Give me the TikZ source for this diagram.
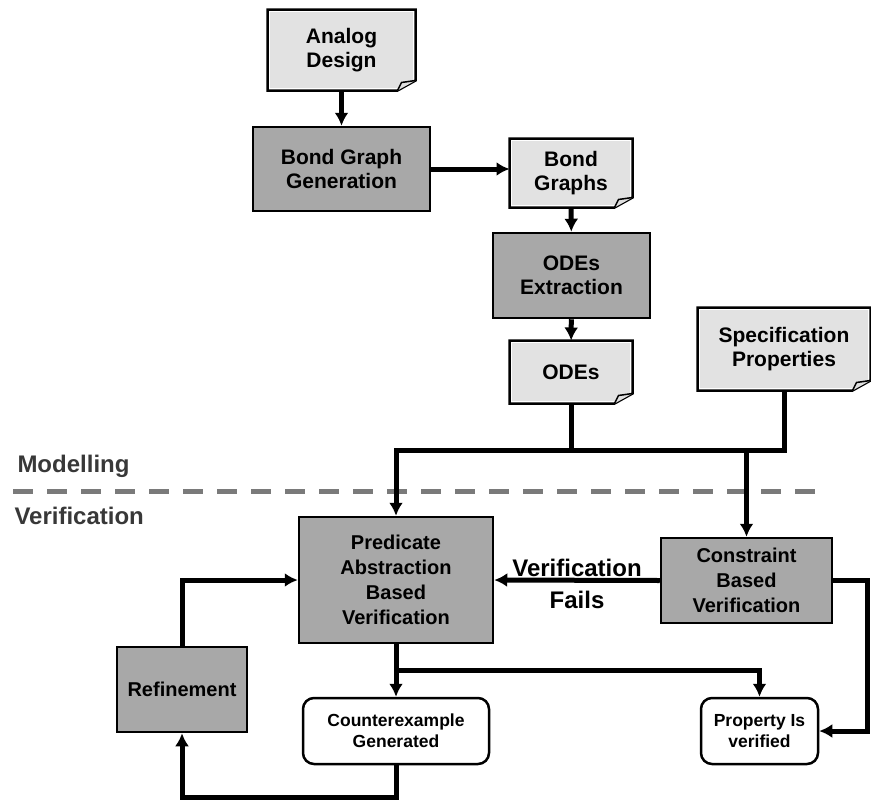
\documentclass[tikz,border=0pt]{standalone}
\usepackage{fontspec}
\setmainfont{Liberation Sans}
\usetikzlibrary{arrows.meta}
\definecolor{docgray}{HTML}{E2E2E2}
\definecolor{procgray}{HTML}{A8A8A8}
\definecolor{sepgray}{HTML}{7A7A7A}
\definecolor{labelgray}{HTML}{383838}
\tikzset{>={Latex[length=13pt,width=14pt]}}

\begin{document}
\begin{tikzpicture}[x=1pt,y=-1pt,line width=5pt]
\useasboundingbox (0,0) rectangle (871,801);
% documents
\begin{scope}[every node/.style={rectangle,fill=docgray,align=center,inner sep=0pt,
    font=\bfseries\fontsize{21}{24}\selectfont}]
\node[minimum width=143pt,minimum height=76pt] (AD) at (341.5,50) {Analog\\Design};
\node[minimum width=118pt,minimum height=64pt] (BG) at (571,173) {Bond\\Graphs};
\node[minimum width=118pt,minimum height=58pt] (OD) at (571,372) {ODEs};
\node[minimum width=168pt,minimum height=78pt] (SP) at (784,349) {Specification\\Properties};
\end{scope}
% folded corners
\foreach \n in {AD,BG,OD,SP} {
  \fill[white] ([xshift=-18pt]\n.south east) -- ([shift={(1pt,-1pt)}]\n.south east) -- ([yshift=10pt]\n.south east) -- cycle;
  \draw[line width=2.5pt] (\n.north west) -- (\n.north east) -- ([yshift=10pt]\n.south east)
    -- ([xshift=-18pt]\n.south east) -- (\n.south west) -- cycle;
  \draw[line width=1.5pt,fill=gray!25,line join=round] ([xshift=-18pt]\n.south east) -- ([shift={(-14pt,8pt)}]\n.south east)
    -- ([yshift=10pt]\n.south east);
}
% processes
\begin{scope}[every node/.style={rectangle,draw,line width=2.5pt,fill=procgray,align=center,
    inner sep=0pt,font=\bfseries\fontsize{21}{24}\selectfont}]
\node[minimum width=177pt,minimum height=84pt] (BGG) at (341.5,169) {Bond Graph\\Generation};
\node[minimum width=157pt,minimum height=85pt] (OE) at (571.5,275.5) {ODEs\\Extraction};
\node[minimum width=194pt,minimum height=126pt,font=\bfseries\fontsize{20}{25}\selectfont] (PA) at (396,580) {Predicate\\Abstraction\\Based\\Verification};
\node[minimum width=171pt,minimum height=85pt,font=\bfseries\fontsize{20}{25}\selectfont] (CB) at (746.5,580.5) {Constraint\\Based\\Verification};
\node[minimum width=130pt,minimum height=85pt,font=\bfseries\fontsize{20}{25}\selectfont] (RF) at (182,689.5) {Refinement};
\end{scope}
% results
\begin{scope}[every node/.style={rectangle,rounded corners=11pt,draw,line width=2.5pt,fill=white,
    align=center,inner sep=0pt,font=\bfseries\fontsize{17.5}{21}\selectfont}]
\node[minimum width=186pt,minimum height=66pt] (CE) at (396,731) {Counterexample\\Generated};
\node[minimum width=117pt,minimum height=66pt] (PV) at (759.5,731) {Property Is\\verified};
\end{scope}
% phases
\begin{scope}[every node/.style={anchor=west,inner sep=0pt,text=labelgray,font=\bfseries\fontsize{24}{28}\selectfont}]
\node (MO) at (15,466) {Modelling};
\node (VE) at (12,516) {Verification};
\end{scope}
\coordinate (DL) at (13,491);
\coordinate (DR) at (817,491);
\draw[sepgray,line width=5pt,dash pattern=on 20pt off 14pt] (DL) -- (DR);
% connectors
\coordinate (J) at (571,450);
\coordinate (S) at (396,670);
\coordinate (RC) at (867,731);
\coordinate (LB) at (182,797);
\path [->] (AD) edge (BGG);
\path [->] (BGG.east) edge (BGG.east -| BG.west);
\path [->] (BG) edge (OE);
\path [->] (OE) edge (OD);
\draw (OD.south) -- (OD.south |- J);
\draw [->] (SP.south) |- (PA.north |- J) -- (PA.north);
\draw [->] (CB.north |- J) -- (CB.north);
\path [->] (CB.west) edge node[above=1pt,inner sep=0pt,font=\bfseries\fontsize{24}{28}\selectfont] {Verification}
    node[below=8pt,inner sep=0pt,font=\bfseries\fontsize{24}{28}\selectfont] {Fails} (PA.east);
\draw [->] (RF.north) |- (PA.west);
\path [->] (PA.south) edge (CE.north);
\draw [->] (S) -| (PV.north);
\draw [->] (CB.east) -| (RC) -- (PV.east);
\draw [->] (CE.south) |- (LB) -- (RF.south);
\end{tikzpicture}
\end{document}
